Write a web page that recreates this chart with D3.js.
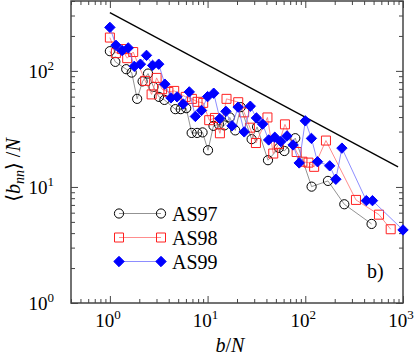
<!DOCTYPE html>
<html>
<head>
<meta charset="utf-8">
<script src="https://cdn.jsdelivr.net/npm/d3@7"></script>
<style>
  body { margin: 0; background: #fff; }
</style>
</head>
<body>
<div id="chart"></div>
<script>
// AS97 (open circles)
var as97X = [1, 1.137, 1.470, 1.672, 1.901, 2.162, 2.458, 2.795, 3.178, 3.614, 4.674, 5.314, 6.042, 6.871, 7.813, 8.884, 10.10, 11.49, 13.06, 14.85, 16.89, 19.20, 21.84, 28.24, 32.11, 41.52, 53.69, 61.05, 78.94, 116.0, 170.6, 250.8, 476.8];
var as97Y = [147.8, 119.6, 103.4, 96.7, 57.4, 81.2, 94.8, 72.8, 59.7, 56.2, 46.8, 46.8, 47.7, 29.2, 29.2, 29.5, 20.7, 33.6, 34.6, 33.9, 39.7, 30.7, 48.7, 25.8, 32.9, 17.0, 21.7, 20.4, 26.3, 10.06, 11.27, 7.09, 4.80];

// AS98 (open squares)
var as98X = [1, 1.152, 1.327, 1.504, 1.732, 2.298, 2.673, 3.007, 3.423, 3.972, 4.553, 5.972, 6.911, 7.886, 9.021, 10.39, 11.89, 13.37, 15.62, 20.59, 23.66, 27.13, 31.25, 40.98, 46.99, 53.37, 61.92, 81.55, 93.5, 107.7, 123.2, 162.7, 330.1, 567.9, 748.2];
var as98Y = [193.7, 142.1, 154.1, 128.7, 145.3, 82.0, 62.7, 87.0, 69.5, 65.9, 67.2, 59.7, 57.4, 54.1, 53.0, 37.6, 39.3, 29.0, 57.4, 53.7, 43.9, 32.4, 23.9, 39.7, 19.4, 23.5, 34.6, 20.0, 16.5, 16.2, 14.9, 25.1, 7.73, 5.77, 4.32];

// AS99 (filled diamonds)
var as99X = [1, 1.155, 1.334, 1.540, 1.778, 2.054, 2.371, 2.738, 3.162, 3.652, 4.217, 4.870, 5.623, 6.494, 7.499, 8.660, 10, 11.55, 13.34, 15.40, 17.78, 20.54, 23.71, 27.38, 31.62, 36.52, 42.17, 48.70, 56.23, 64.94, 74.99, 86.60, 100, 115.5, 133.4, 177.8, 205.4, 237.1, 421.7, 487.0, 1000];
var as99Y = [237, 165.9, 149.6, 157.8, 109.4, 114.2, 136.0, 111.5, 114.2, 76.8, 58.5, 59.7, 51.9, 65.9, 40.5, 45.6, 60.0, 64.2, 38.8, 44.8, 33.6, 48.7, 29.8, 49.6, 39.3, 34.8, 25.4, 26.8, 24.6, 27.5, 23.0, 16.1, 37.1, 26.2, 16.5, 15.2, 11.65, 21.6, 7.62, 7.62, 4.26];

// reference power-law line (two end points)
var fitX = [1, 890];
var fitY = [318, 14.9];

var seriesNames = ["AS97", "AS98", "AS99"];
var xMajor = [1, 10, 100, 1000];
var yMajor = [1, 10, 100];

var width = 415, height = 362;
var mLeft = 71, mRight = 403, mTop = 1, mBottom = 303;
var serif = '"Liberation Serif", "Times New Roman", "DejaVu Serif", serif';

var svg = d3.select('#chart')
    .append('svg')
    .attr('width', width)
    .attr('height', height);

var x = d3.scaleLog().domain([0.4, 1000]).range([mLeft, mRight]);
var y = d3.scaleLog().domain([1, 400]).range([mBottom, mTop]);

// minor ticks: every 1..9 multiple inside the domain
var xMinor = x.ticks().filter(d => xMajor.indexOf(d) < 0);
var yMinor = y.ticks().filter(d => yMajor.indexOf(d) < 0);

var axisColor = '#444';

function drawAxis(gen, vals, size, tx, ty) {
    var g = svg.append('g')
        .attr('transform', 'translate(' + tx + ',' + ty + ')')
        .call(gen.tickValues(vals).tickSize(size).tickSizeOuter(0).tickFormat(''));
    g.select('.domain').remove();
    g.selectAll('line').attr('stroke', axisColor).attr('stroke-width', 1);
}

// ticks pointing inward on all four sides
drawAxis(d3.axisBottom(x), xMajor, -7, 0, mBottom);
drawAxis(d3.axisBottom(x), xMinor, -4, 0, mBottom);
drawAxis(d3.axisTop(x), xMajor, -7, 0, mTop);
drawAxis(d3.axisTop(x), xMinor, -4, 0, mTop);
drawAxis(d3.axisLeft(y), yMajor, -7, mLeft, 0);
drawAxis(d3.axisLeft(y), yMinor, -4, mLeft, 0);
drawAxis(d3.axisRight(y), yMajor, -7, mRight, 0);
drawAxis(d3.axisRight(y), yMinor, -4, mRight, 0);

svg.append('rect')
    .attr('x', mLeft).attr('y', mTop)
    .attr('width', mRight - mLeft).attr('height', mBottom - mTop)
    .attr('fill', 'none')
    .attr('stroke', axisColor)
    .attr('stroke-width', 1.5);

// tick labels 10^n
xMajor.forEach(function(v) {
    var t = svg.append('text')
        .attr('x', x(v) - 2)
        .attr('y', mBottom + 24)
        .attr('text-anchor', 'middle')
        .style('font-family', serif)
        .style('font-size', '19px');
    t.append('tspan').text('10');
    t.append('tspan').attr('dy', -8).style('font-size', '13px').text(Math.round(Math.log10(v)));
});
yMajor.forEach(function(v) {
    var t = svg.append('text')
        .attr('x', mLeft - 17)
        .attr('y', y(v) + 7)
        .attr('text-anchor', 'end')
        .style('font-family', serif)
        .style('font-size', '19px');
    t.append('tspan').text('10');
    t.append('tspan').attr('dy', -8).style('font-size', '13px').text(Math.round(Math.log10(v)));
});

// axis titles
var xt = svg.append('text')
    .attr('x', 230).attr('y', 352)
    .attr('text-anchor', 'middle')
    .style('font-family', serif)
    .style('font-size', '20px');
xt.append('tspan').style('font-style', 'italic').text('b');
xt.append('tspan').text('/');
xt.append('tspan').style('font-style', 'italic').text('N');

var yt = svg.append('text')
    .attr('transform', 'translate(20,170) rotate(-90)')
    .attr('text-anchor', 'middle')
    .style('font-family', serif)
    .style('font-size', '20px');
yt.append('tspan').text('\u27E8');
yt.append('tspan').style('font-style', 'italic').text('b');
yt.append('tspan').attr('dy', 4).style('font-size', '14px').style('font-style', 'italic').text('nn');
yt.append('tspan').attr('dy', -4).text('\u27E9');
yt.append('tspan').text(' /');
yt.append('tspan').style('font-style', 'italic').text('N');

// power-law line
var line = d3.line().x(d => x(d[0])).y(d => y(d[1]));
svg.append('path')
    .datum(d3.zip(fitX, fitY))
    .attr('d', line)
    .attr('fill', 'none')
    .attr('stroke', '#000')
    .attr('stroke-width', 1.3);

// marker shapes
function circlePath(cx, cy) {
    var r = 4.6;
    return 'M' + (cx + r) + ',' + cy + 'A' + r + ',' + r + ' 0 1,1 ' + (cx - r) + ',' + cy +
        'A' + r + ',' + r + ' 0 1,1 ' + (cx + r) + ',' + cy + 'Z';
}
function squarePath(cx, cy) {
    var h = 4.5;
    return 'M' + (cx - h) + ',' + (cy - h) + 'h' + 2 * h + 'v' + 2 * h + 'h' + (-2 * h) + 'Z';
}
function diamondPath(cx, cy) {
    var h = 5.2;
    return 'M' + cx + ',' + (cy - h) + 'L' + (cx + h) + ',' + cy + 'L' + cx + ',' + (cy + h) + 'L' + (cx - h) + ',' + cy + 'Z';
}

var styles = [
    { xs: as97X, ys: as97Y, line: '#777', mark: circlePath, stroke: '#000', fill: 'none' },
    { xs: as98X, ys: as98Y, line: '#ff7070', mark: squarePath, stroke: '#ff2020', fill: 'none' },
    { xs: as99X, ys: as99Y, line: '#7070ff', mark: diamondPath, stroke: '#0000ff', fill: '#0000ff' }
];

styles.forEach(function(s) {
    var pts = d3.zip(s.xs, s.ys);
    svg.append('path')
        .datum(pts)
        .attr('d', line)
        .attr('fill', 'none')
        .attr('stroke', s.line)
        .attr('stroke-width', 0.8);
    svg.append('g')
        .selectAll('path')
        .data(pts)
        .enter()
        .append('path')
        .attr('d', d => s.mark(x(d[0]), y(d[1])))
        .attr('fill', s.fill)
        .attr('stroke', s.stroke)
        .attr('stroke-width', 1);
});

// legend
var legY = [213.5, 237.5, 261.5];
styles.forEach(function(s, i) {
    var ly = legY[i];
    svg.append('line')
        .attr('x1', 119).attr('x2', 161)
        .attr('y1', ly).attr('y2', ly)
        .attr('stroke', s.line).attr('stroke-width', 0.8);
    [119, 161].forEach(function(lx) {
        svg.append('path')
            .attr('d', s.mark(lx, ly))
            .attr('fill', s.fill)
            .attr('stroke', s.stroke)
            .attr('stroke-width', 1);
    });
    svg.append('text')
        .attr('x', 172).attr('y', ly + 7)
        .style('font-family', serif)
        .style('font-size', '20px')
        .text(seriesNames[i]);
});

svg.append('text')
    .attr('x', 367).attr('y', 278)
    .style('font-family', serif)
    .style('font-size', '20px')
    .text('b)');
</script>
</body>
</html>
